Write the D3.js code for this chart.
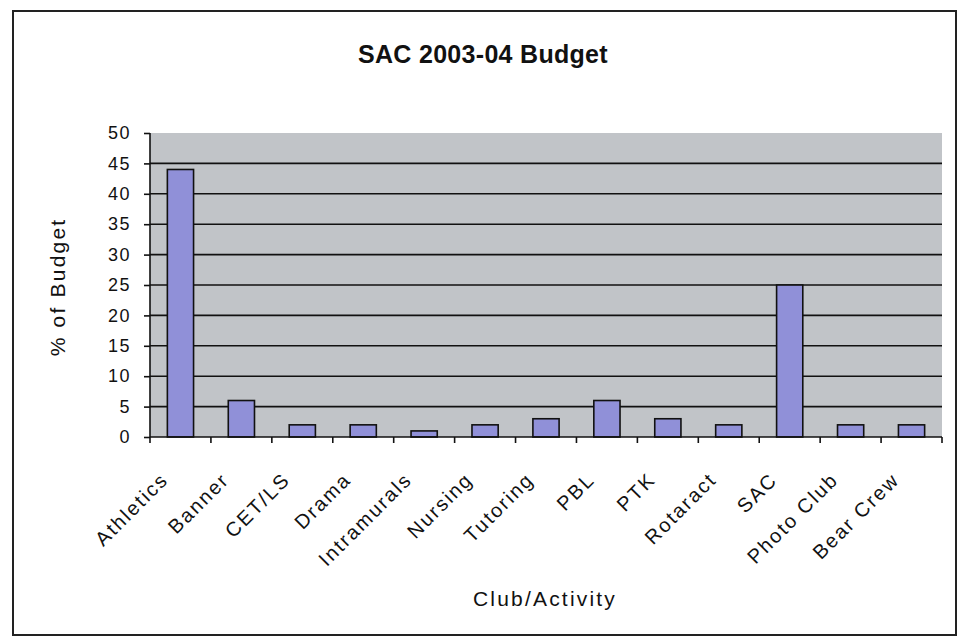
<!DOCTYPE html>
<html lang="en">

<head>
  <meta charset="utf-8">
  <title>SAC 2003-04 Budget</title>
  <script src="https://d3js.org/d3.v7.min.js"></script>
</head>

<body style="margin:0; background:white;">
  <svg width="965" height="637"></svg>

  <style>
    text {
      font-family: "Liberation Sans", Arial, sans-serif;
      fill: #111;
    }

    .titulo {
      font-size: 25px;
      font-weight: bold;
      letter-spacing: 0.3px;
    }

    .eixo text {
      font-size: 18px;
      letter-spacing: 1.5px;
    }

    .rotx {
      font-size: 20px;
      letter-spacing: 2px;
    }

    .rotulo {
      font-size: 21px;
      letter-spacing: 2.2px;
    }
  </style>

  <script>
    var categories = ["Athletics", "Banner", "CET/LS", "Drama", "Intramurals", "Nursing",
      "Tutoring", "PBL", "PTK", "Rotaract", "SAC", "Photo Club", "Bear Crew"];
    var budgetPct = [44, 6, 2, 2, 1, 2, 3, 6, 3, 2, 25, 2, 2];
    var yTicks = [0, 5, 10, 15, 20, 25, 30, 35, 40, 45, 50];

    var data = categories.map((c, i) => ({ name: c, value: budgetPct[i] }));

    var svg = d3.select("svg"),
      margin = { top: 133, left: 150 },
      width = 942 - margin.left,
      height = 437 - margin.top;

    // moldura
    svg.append("rect")
      .attr("x", 13).attr("y", 11)
      .attr("width", 943).attr("height", 624)
      .attr("fill", "white")
      .attr("stroke", "#222")
      .attr("stroke-width", 2);

    svg.append("text")
      .classed("titulo", true)
      .attr("x", 483).attr("y", 63)
      .attr("text-anchor", "middle")
      .text("SAC 2003-04 Budget");

    var g = svg.append("g")
      .attr("transform", "translate(" + margin.left + "," + margin.top + ")");

    var x = d3.scaleBand()
      .domain(categories)
      .range([0, width])
      .paddingInner(0.57)
      .paddingOuter(0.285);

    var y = d3.scaleLinear()
      .domain([0, 50])
      .range([height, 0]);

    // fundo da area do grafico
    g.append("rect")
      .attr("width", width).attr("height", height)
      .attr("fill", "#c1c4c8");

    // linhas de grade
    g.selectAll(".grade")
      .data(yTicks.filter(d => d > 0 && d < 50))
      .enter().append("line")
      .attr("x1", 0).attr("x2", width)
      .attr("y1", d => y(d)).attr("y2", d => y(d))
      .attr("stroke", "#111")
      .attr("stroke-width", 1.6);

    // barras
    g.selectAll(".barra")
      .data(data)
      .enter().append("rect")
      .attr("x", d => x(d.name))
      .attr("y", d => y(d.value))
      .attr("width", x.bandwidth())
      .attr("height", d => height - y(d.value))
      .attr("fill", "#9090d8")
      .attr("stroke", "#111")
      .attr("stroke-width", 1.6);

    // eixo y
    var eixoY = g.append("g")
      .classed("eixo", true)
      .call(d3.axisLeft(y).tickValues(yTicks).tickSize(6).tickPadding(13));
    eixoY.selectAll("line, path").attr("stroke", "#111").attr("stroke-width", 1.6);
    eixoY.select(".domain").attr("d", "M0," + height + "V0");

    // eixo x com ticks nas fronteiras das categorias
    var fronteiras = d3.range(categories.length + 1).map(i => i * width / categories.length);
    g.append("line")
      .attr("x1", 0).attr("x2", width)
      .attr("y1", height).attr("y2", height)
      .attr("stroke", "#111").attr("stroke-width", 1.6);
    g.selectAll(".tickx")
      .data(fronteiras)
      .enter().append("line")
      .attr("x1", d => d).attr("x2", d => d)
      .attr("y1", height).attr("y2", height + 6)
      .attr("stroke", "#111").attr("stroke-width", 1.6);

    g.selectAll(".rotx")
      .data(categories)
      .enter().append("text")
      .attr("class", "rotx")
      .attr("text-anchor", "end")
      .attr("transform", d => "translate(" + (x(d) + x.bandwidth() / 2 - 11) + "," + (height + 44) + ") rotate(-45)")
      .text(d => d);

    svg.append("text")
      .classed("rotulo", true)
      .attr("transform", "translate(65,287) rotate(-90)")
      .attr("text-anchor", "middle")
      .text("% of Budget");

    svg.append("text")
      .classed("rotulo", true)
      .attr("x", 545).attr("y", 606)
      .attr("text-anchor", "middle")
      .text("Club/Activity");
  </script>

</body>

</html>
